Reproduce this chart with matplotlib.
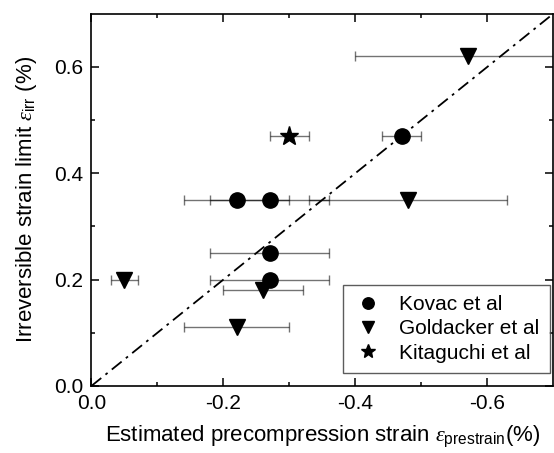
import matplotlib
matplotlib.use("Agg")
import matplotlib.pyplot as plt
import numpy as np

plt.rcParams['font.family'] = ['Liberation Sans', 'DejaVu Sans']
plt.rcParams['mathtext.fontset'] = 'custom'
plt.rcParams['mathtext.rm'] = 'Liberation Sans'
plt.rcParams['mathtext.it'] = 'Liberation Serif:italic'
plt.rcParams['axes.unicode_minus'] = False

# data (strain in %)
kovac_x = [-0.47, -0.22, -0.27, -0.27, -0.27]
kovac_y = [0.47, 0.35, 0.35, 0.25, 0.20]
kovac_xerr = [0.03, 0.08, 0.09, 0.09, 0.09]

gold_x = [-0.57, -0.48, -0.05, -0.26, -0.22]
gold_y = [0.62, 0.35, 0.20, 0.18, 0.11]
gold_xerr = [0.17, 0.15, 0.02, 0.06, 0.08]

kita_x = [-0.30]
kita_y = [0.47]
kita_xerr = [0.03]

fig = plt.figure(figsize=(5.54, 4.53), dpi=100)
ax = fig.add_axes([0.165, 0.148, 0.834, 0.822])

# y = -x guide
guide = np.array([0.0, -0.7])
ax.plot(guide, -guide, color='k', lw=1.3, dashes=(7, 3, 1.5, 3), zorder=2)

ebar = dict(fmt='none', ecolor='k', alpha=0.55, elinewidth=1.0,
            capsize=3.5, capthick=1.0, zorder=1)
ax.errorbar(kovac_x, kovac_y, xerr=kovac_xerr, **ebar)
ax.errorbar(gold_x, gold_y, xerr=gold_xerr, **ebar)
ax.errorbar(kita_x, kita_y, xerr=kita_xerr, **ebar)

ax.plot(kovac_x, kovac_y, 'o', color='k', ms=11, ls='none',
        label='Kovac et al', zorder=3)
ax.plot(gold_x, gold_y, 'v', color='k', ms=12, ls='none',
        label='Goldacker et al', zorder=3)
ax.plot(kita_x, kita_y, '*', color='k', ms=14, ls='none',
        label='Kitaguchi et al', zorder=3)

ax.set_xlim(0, -0.7)
ax.set_ylim(0, 0.7)
ax.set_xticks([0.0, -0.2, -0.4, -0.6])
ax.set_xticks([-0.1, -0.3, -0.5], minor=True)
ax.set_yticks([0.0, 0.2, 0.4, 0.6])
ax.set_yticks([0.1, 0.3, 0.5], minor=True)
ax.xaxis.set_major_formatter(matplotlib.ticker.FormatStrFormatter('%.1f'))
ax.yaxis.set_major_formatter(matplotlib.ticker.FormatStrFormatter('%.1f'))

ax.tick_params(which='both', direction='in', top=True, right=True,
               width=1.1, labelsize=15, pad=6)
ax.tick_params(which='major', length=6)
ax.tick_params(which='minor', length=3)
for s in ax.spines.values():
    s.set_linewidth(1.2)

ax.set_xlabel(r'Estimated precompression strain $\varepsilon_{\mathrm{prestrain}}$(%)',
              fontsize=16, labelpad=7)
ax.set_ylabel(r'Irreversible strain limit $\varepsilon_{\mathrm{irr}}$ (%)',
              fontsize=16, labelpad=11)

leg = ax.legend(loc='lower right', bbox_to_anchor=(0.992, 0.035),
                fontsize=15, frameon=True, fancybox=False, markerscale=0.75,
                handlelength=1.4, handletextpad=0.8, borderpad=0.5,
                labelspacing=0.25, borderaxespad=0)
leg.get_frame().set_edgecolor('#333333')
leg.get_frame().set_linewidth(1.0)

fig.savefig('out.png', dpi=100)
